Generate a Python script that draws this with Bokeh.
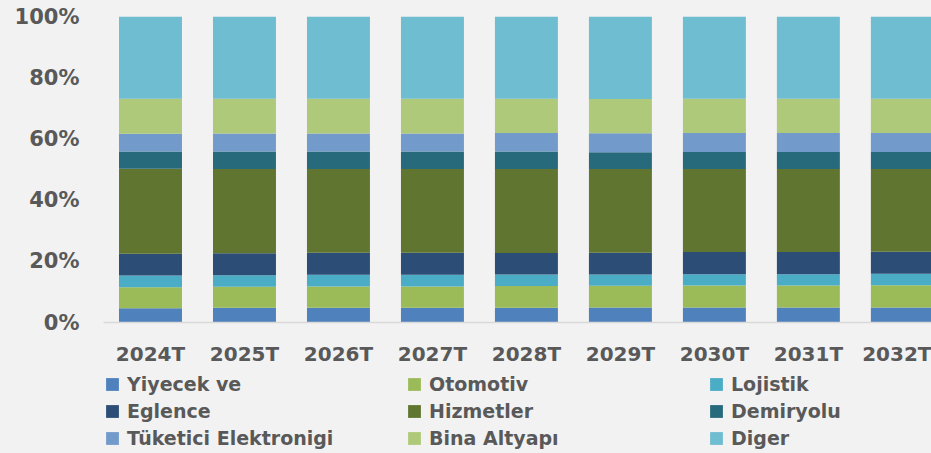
from bokeh.plotting import figure
from bokeh.models import (ColumnDataSource, Range1d, FixedTicker, NumeralTickFormatter,
                          Legend, LegendItem)
from bokeh.layouts import column
from bokeh.embed import file_html
from bokeh.resources import INLINE

years = ["2024T", "2025T", "2026T", "2027T", "2028T", "2029T", "2030T", "2031T", "2032T"]
series = ["Yiyecek ve", "Otomotiv", "Lojistik", "Eglence", "Hizmetler",
          "Demiryolu", "Tüketici Elektronigi", "Bina Altyapı", "Diger"]
colors = ["#4f81bd", "#9bbb59", "#4bacc6", "#2c4d75", "#5f7530",
          "#276a7c", "#729aca", "#afc97a", "#6fbdd1"]

yiyecek   = [4.7, 4.8, 4.8, 4.8, 4.8, 4.9, 4.9, 4.9, 4.9]
otomotiv  = [6.85, 6.85, 7.0, 7.0, 7.1, 7.1, 7.2, 7.2, 7.3]
lojistik  = [3.8, 3.8, 3.8, 3.8, 3.8, 3.7, 3.7, 3.7, 3.7]
eglence   = [7.1, 7.2, 7.2, 7.2, 7.0, 7.1, 7.2, 7.2, 7.2]
hizmetler = [27.8, 27.5, 27.4, 27.4, 27.5, 27.3, 27.2, 27.2, 27.1]
demiryolu = [5.7, 5.7, 5.7, 5.7, 5.7, 5.5, 5.5, 5.5, 5.5]
tuketici  = [5.8, 5.9, 5.9, 5.9, 6.0, 6.2, 6.2, 6.2, 6.2]
bina      = [11.4, 11.3, 11.3, 11.3, 11.2, 11.2, 11.2, 11.2, 11.2]
diger     = [26.9, 26.9, 26.9, 26.9, 26.9, 26.9, 26.9, 26.9, 26.9]

values = [yiyecek, otomotiv, lojistik, eglence, hizmetler, demiryolu, tuketici, bina, diger]

# normalise to 100% stacks
data = {"x": list(range(len(years)))}
keys = []
for i, vals in enumerate(values):
    k = f"s{i}"
    keys.append(k)
    data[k] = []
for j in range(len(years)):
    tot = sum(v[j] for v in values)
    for i, vals in enumerate(values):
        data[keys[i]].append(vals[j] / tot)
source = ColumnDataSource(data)

FONT = "DejaVu Sans"
TXT = "#595959"
BG = "#f2f2f2"

p = figure(width=931, height=372, output_backend="svg", toolbar_location=None,
           x_range=Range1d(-0.5, 8.31), y_range=Range1d(0, 1),
           min_border_left=103, min_border_right=0, min_border_top=16, min_border_bottom=50)
p.background_fill_color = BG
p.border_fill_color = BG
p.outline_line_color = None
p.xgrid.visible = False
p.ygrid.visible = False

renderers = p.vbar_stack(keys, x="x", width=0.67, source=source, color=colors, line_color=None)

# x axis
p.xaxis.ticker = FixedTicker(ticks=list(range(len(years))))
p.xaxis.major_label_overrides = {i: y for i, y in enumerate(years)}
p.xaxis.axis_line_color = "#d9d9d9"
p.xaxis.axis_line_width = 1.5
p.xaxis.major_tick_line_color = None
p.xaxis.minor_tick_line_color = None
p.xaxis.major_tick_out = 0
p.xaxis.major_label_standoff = 19
p.xaxis.major_label_text_font = FONT
p.xaxis.major_label_text_font_style = "bold"
p.xaxis.major_label_text_font_size = "20px"
p.xaxis.major_label_text_color = TXT

# y axis
p.yaxis.ticker = FixedTicker(ticks=[0, 0.2, 0.4, 0.6, 0.8, 1.0])
p.yaxis.formatter = NumeralTickFormatter(format="0%")
p.yaxis.axis_line_color = None
p.yaxis.major_tick_line_color = None
p.yaxis.minor_tick_line_color = None
p.yaxis.major_tick_out = 0
p.yaxis.major_label_standoff = 24
p.yaxis.major_label_text_font = FONT
p.yaxis.major_label_text_font_style = "bold"
p.yaxis.major_label_text_font_size = "21px"
p.yaxis.major_label_text_color = TXT

# legend figure below the chart (its frame is aligned with the chart frame)
lp = figure(width=931, height=81, output_backend="svg", toolbar_location=None,
            x_range=Range1d(100, 101), y_range=Range1d(100, 101),
            x_axis_type=None, y_axis_type=None, min_border=0)
lp.background_fill_color = BG
lp.border_fill_color = BG
lp.outline_line_color = None
lp.xgrid.visible = False
lp.ygrid.visible = False

col_x = [1, 303, 605]
for c in range(3):
    items = []
    for r in range(3):
        i = r * 3 + c
        rr = lp.vbar(x="x", top=keys[i], width=0.5, source=source,
                     color=colors[i], line_color=None)
        items.append(LegendItem(label=series[i], renderers=[rr]))
    leg = Legend(items=items, location=(col_x[c], 4), orientation="vertical",
                 glyph_width=16, glyph_height=16, label_standoff=7,
                 label_height=20, spacing=5, padding=0, margin=0,
                 label_text_font=FONT, label_text_font_style="bold",
                 label_text_font_size="19px", label_text_color=TXT,
                 border_line_color=None, background_fill_alpha=0)
    lp.add_layout(leg)

layout = column(p, lp, spacing=0)
layout.styles = {"background-color": BG}
open("out.html", "w").write(file_html(layout, INLINE))
